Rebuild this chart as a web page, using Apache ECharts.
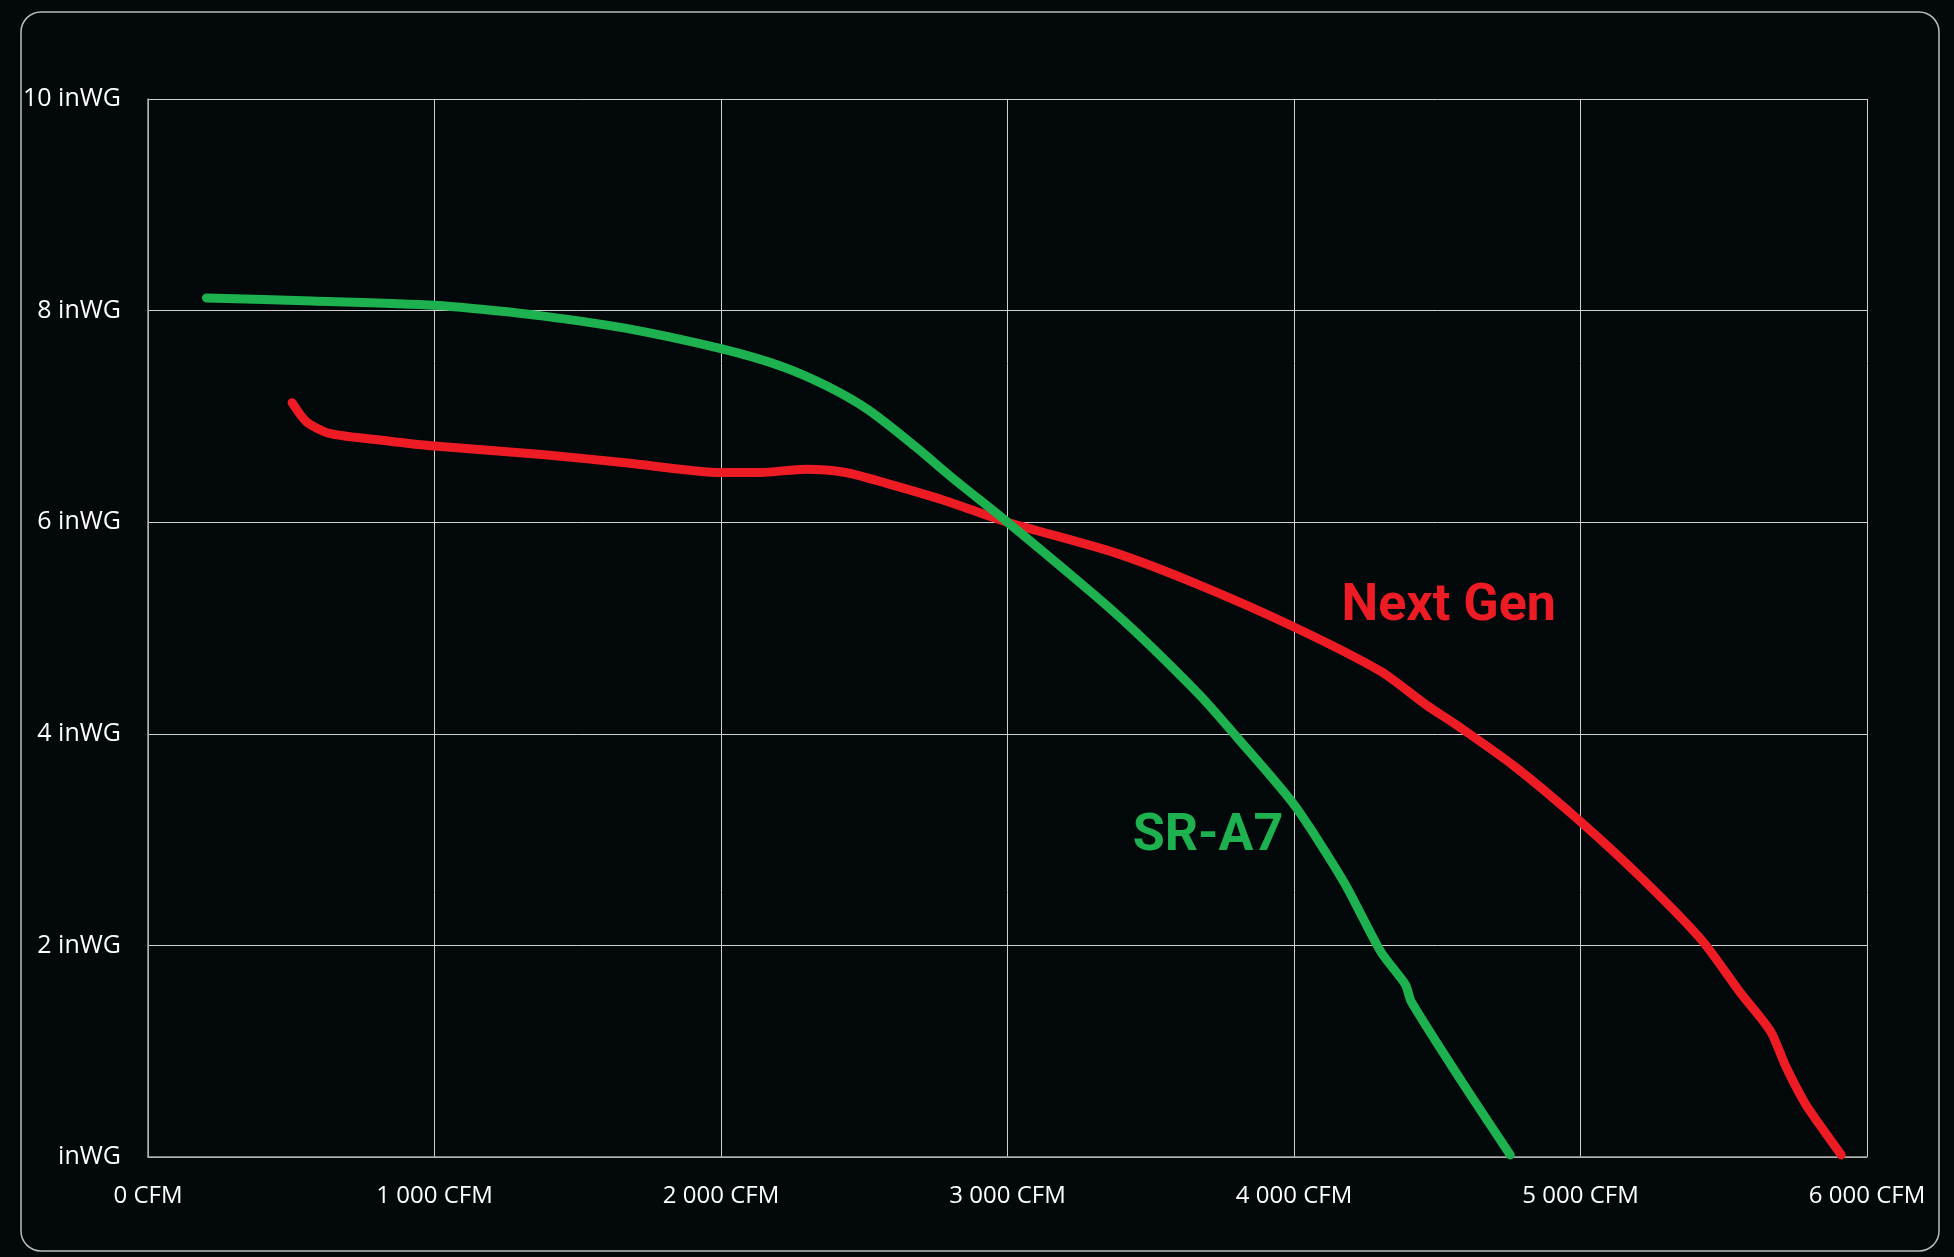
<!DOCTYPE html>
<html>
<head>
<meta charset="utf-8">
<style>
  html, body { margin: 0; padding: 0; background: #03080a; }
  #chart { width: 1954px; height: 1257px; }
</style>
<script src="https://cdn.jsdelivr.net/npm/echarts@6/dist/echarts.min.js"></script>
</head>
<body>
<div id="chart"></div>
<script>
// Airflow (CFM) vs static pressure (inWG)
const seriesNames = ['SR-A7', 'Next Gen'];
const srA7 = [
  [204, 8.12], [573, 8.09], [1000, 8.05], [1174, 8.01], [1374, 7.95], [1674, 7.83],
  [2000, 7.64], [2215, 7.47], [2375, 7.28], [2515, 7.06], [2676, 6.72], [2816, 6.40],
  [3000, 6.0], [3376, 5.14], [3666, 4.38], [3800, 3.97], [4000, 3.33], [4174, 2.6],
  [4303, 1.94], [4389, 1.63], [4409, 1.47], [4584, 0.72], [4755, 0.02]
];
const nextGen = [
  [503, 7.13], [553, 6.95], [633, 6.84], [800, 6.78], [1000, 6.72], [1374, 6.64],
  [1674, 6.56], [2000, 6.47], [2135, 6.47], [2295, 6.50], [2435, 6.47], [2575, 6.37],
  [2775, 6.21], [3000, 6.0], [3376, 5.71], [3666, 5.41], [4000, 5.01], [4303, 4.59],
  [4463, 4.27], [4580, 4.06], [4771, 3.69], [5000, 3.17], [5223, 2.61], [5423, 2.05],
  [5556, 1.56], [5663, 1.19], [5716, 0.86], [5783, 0.51], [5836, 0.30], [5910, 0.02]
];
// label anchor positions in data units [CFM, inWG]
const srA7LabelAt = [3700, 3.02];
const nextGenLabelAt = [4540, 5.20];

const xTicks = { min: 0, max: 6000, interval: 1000 };
const yTicks = { min: 0, max: 10, interval: 2 };

const colors = { green: '#1db14f', red: '#ed1c24' };

function fmtCFM(v) {
  return String(v).replace(/\B(?=(\d{3})+(?!\d))/g, ' ') + ' CFM';
}
function fmtWG(v) {
  return v === 0 ? 'inWG' : v + ' inWG';
}

const chart = echarts.init(document.getElementById('chart'), null, { renderer: 'canvas' });

function labelPoint(coord, text, color) {
  return {
    symbol: 'circle',
    symbolSize: 1,
    itemStyle: { color: 'rgba(0,0,0,0)' },
    label: {
      show: true,
      position: 'inside',
      formatter: text,
      color: color,
      fontFamily: 'Roboto',
      fontWeight: 'bold',
      fontSize: 52
    },
    data: [{ coord: coord }]
  };
}

chart.setOption({
  backgroundColor: '#03080a',
  animation: false,
  graphic: [{
    type: 'rect',
    shape: { x: 21, y: 12, width: 1918, height: 1239, r: 20 },
    style: { fill: 'none', stroke: '#bdbdbd', lineWidth: 1.5 },
    silent: true,
    z: -1
  }],
  grid: { left: 148, right: 87, top: 99, bottom: 100, containLabel: false },
  xAxis: {
    type: 'value',
    min: xTicks.min, max: xTicks.max, interval: xTicks.interval,
    axisLine: { show: true, lineStyle: { color: '#a8a8a8', width: 1.5 } },
    axisTick: { show: false },
    splitLine: { show: true, lineStyle: { color: '#cfcfcf', width: 1 } },
    axisLabel: {
      formatter: fmtCFM,
      color: '#ffffff',
      fontFamily: 'Open Sans',
      fontSize: 24,
      margin: 27
    }
  },
  yAxis: {
    type: 'value',
    min: yTicks.min, max: yTicks.max, interval: yTicks.interval,
    axisLine: { show: true, lineStyle: { color: '#a8a8a8', width: 1.5 } },
    axisTick: { show: false },
    splitLine: { show: true, lineStyle: { color: '#cfcfcf', width: 1 } },
    axisLabel: {
      formatter: fmtWG,
      color: '#ffffff',
      fontFamily: 'Open Sans',
      fontSize: 25,
      margin: 27,
      padding: [2, 0, 0, 0]
    }
  },
  series: [
    {
      name: seriesNames[0],
      type: 'line',
      data: srA7,
      showSymbol: false,
      smooth: 0.25,
      lineStyle: { color: colors.green, width: 9, cap: 'round', join: 'round' },
      itemStyle: { color: colors.green },
      markPoint: labelPoint(srA7LabelAt, seriesNames[0], colors.green),
      z: 3
    },
    {
      name: seriesNames[1],
      type: 'line',
      data: nextGen,
      showSymbol: false,
      smooth: 0.25,
      lineStyle: { color: colors.red, width: 9, cap: 'round', join: 'round' },
      itemStyle: { color: colors.red },
      markPoint: labelPoint(nextGenLabelAt, seriesNames[1], colors.red),
      z: 2
    }
  ]
});
</script>
</body>
</html>
